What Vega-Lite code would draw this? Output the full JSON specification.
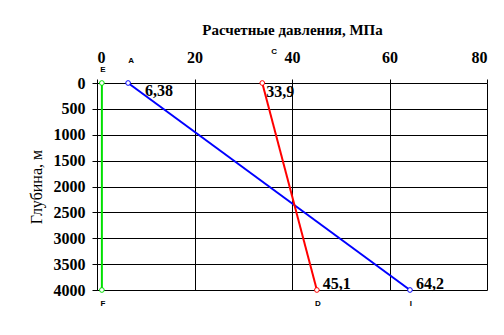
{
  "$schema": "https://vega.github.io/schema/vega-lite/v6.json",
  "autosize": {"type": "none"},
  "width": 390,
  "height": 207,
  "padding": {"left": 97, "top": 83, "right": 17, "bottom": 45},
  "background": "white",
  "config": {"view": {"stroke": null}},
  "datasets": {
    "lines": [
      {"series": "green", "p": 1, "depth": 0},
      {"series": "green", "p": 1, "depth": 4000},
      {"series": "blue", "p": 6.38, "depth": 0},
      {"series": "blue", "p": 64.2, "depth": 4000},
      {"series": "red", "p": 33.9, "depth": 0},
      {"series": "red", "p": 45.1, "depth": 4000}
    ],
    "labels": [
      {"pos": "top1", "p": 6.38, "depth": 0, "text": "6,38"},
      {"pos": "top2", "p": 33.9, "depth": 0, "text": "33,9"},
      {"pos": "bottom", "p": 45.1, "depth": 4000, "text": "45,1"},
      {"pos": "bottom", "p": 64.2, "depth": 4000, "text": "64,2"}
    ],
    "letters": [
      {"pos": "top", "p": 1, "depth": 0, "text": "E"},
      {"pos": "bottom", "p": 1, "depth": 4000, "text": "F"},
      {"pos": "bottom", "p": 45.1, "depth": 4000, "text": "D"},
      {"pos": "bottom", "p": 64.2, "depth": 4000, "text": "I"},
      {"pos": "a", "p": 6.38, "depth": 0, "text": "A"},
      {"pos": "c", "p": 33.9, "depth": 0, "text": "C"}
    ]
  },
  "encoding": {
    "x": {
      "field": "p", "type": "quantitative",
      "scale": {"domain": [0, 80], "nice": false, "zero": false},
      "axis": {
        "orient": "top", "values": [0, 20, 40, 60, 80], "format": "d",
        "title": "Расчетные давления, МПа",
        "titleFont": "Liberation Serif", "titleFontSize": 15, "titleFontWeight": "bold", "titleColor": "black",
        "titlePadding": 12,
        "labelFont": "Liberation Serif", "labelFontSize": 16, "labelFontWeight": "bold", "labelColor": "black",
        "labelPadding": 14, "tickSize": 4, "tickColor": "black",
        "domain": false,
        "grid": true, "gridColor": "black", "gridOpacity": 1, "gridWidth": 1
      }
    },
    "y": {
      "field": "depth", "type": "quantitative",
      "scale": {"domain": [0, 4000], "reverse": true, "nice": false, "zero": false},
      "axis": {
        "values": [0, 500, 1000, 1500, 2000, 2500, 3000, 3500, 4000], "format": "d",
        "title": "Глубина, м",
        "titleFont": "Liberation Serif", "titleFontSize": 16, "titleFontWeight": "normal", "titleColor": "black",
        "titlePadding": 9,
        "labelFont": "Liberation Serif", "labelFontSize": 16, "labelFontWeight": "bold", "labelColor": "black",
        "labelPadding": 7, "tickSize": 5, "tickColor": "black",
        "domain": true, "domainColor": "black",
        "grid": true, "gridColor": "black", "gridOpacity": 1, "gridWidth": 1
      }
    }
  },
  "layer": [
    {
      "data": {"name": "lines"},
      "mark": {"type": "line", "strokeWidth": 2},
      "encoding": {
        "detail": {"field": "series"},
        "color": {
          "field": "series", "type": "nominal", "legend": null,
          "scale": {"domain": ["green", "blue", "red"], "range": ["#00e000", "#0000ff", "#ff0000"]}
        },
        "strokeWidth": {
          "field": "series", "type": "nominal", "legend": null,
          "scale": {"domain": ["green", "blue", "red"], "range": [3, 1.5, 2]}
        }
      }
    },
    {
      "data": {"name": "lines"},
      "mark": {"type": "point", "shape": "circle", "filled": true, "fill": "white", "size": 22, "strokeWidth": 1, "opacity": 1},
      "encoding": {
        "stroke": {
          "field": "series", "type": "nominal", "legend": null,
          "scale": {"domain": ["green", "blue", "red"], "range": ["#00e000", "#0000ff", "#ff0000"]}
        }
      }
    },
    {
      "data": {"name": "labels"},
      "transform": [{"filter": "datum.pos == 'top1'"}],
      "mark": {"type": "text", "align": "left", "baseline": "middle", "dx": 17, "dy": 8, "font": "Liberation Serif", "fontSize": 16, "fontWeight": "bold", "color": "black"},
      "encoding": {"text": {"field": "text"}}
    },
    {
      "data": {"name": "labels"},
      "transform": [{"filter": "datum.pos == 'top2'"}],
      "mark": {"type": "text", "align": "left", "baseline": "middle", "dx": 4, "dy": 9, "font": "Liberation Serif", "fontSize": 16, "fontWeight": "bold", "color": "black"},
      "encoding": {"text": {"field": "text"}}
    },
    {
      "data": {"name": "labels"},
      "transform": [{"filter": "datum.pos == 'bottom'"}],
      "mark": {"type": "text", "align": "left", "baseline": "middle", "dx": 6, "dy": -6, "font": "Liberation Serif", "fontSize": 16, "fontWeight": "bold", "color": "black"},
      "encoding": {"text": {"field": "text"}}
    },
    {
      "data": {"name": "letters"},
      "transform": [{"filter": "datum.pos == 'top'"}],
      "mark": {"type": "text", "align": "center", "baseline": "middle", "dx": 1, "dy": -13, "font": "Liberation Sans", "fontSize": 8, "fontWeight": "bold", "color": "black"},
      "encoding": {"text": {"field": "text"}}
    },
    {
      "data": {"name": "letters"},
      "transform": [{"filter": "datum.pos == 'bottom'"}],
      "mark": {"type": "text", "align": "center", "baseline": "middle", "dx": 1, "dy": 14, "font": "Liberation Sans", "fontSize": 8, "fontWeight": "bold", "color": "black"},
      "encoding": {"text": {"field": "text"}}
    },
    {
      "data": {"name": "letters"},
      "transform": [{"filter": "datum.pos == 'a'"}],
      "mark": {"type": "text", "align": "center", "baseline": "middle", "dx": 3, "dy": -22, "font": "Liberation Sans", "fontSize": 8, "fontWeight": "bold", "color": "black"},
      "encoding": {"text": {"field": "text"}}
    },
    {
      "data": {"name": "letters"},
      "transform": [{"filter": "datum.pos == 'c'"}],
      "mark": {"type": "text", "align": "center", "baseline": "middle", "dx": 12, "dy": -31, "font": "Liberation Sans", "fontSize": 8, "fontWeight": "bold", "color": "black"},
      "encoding": {"text": {"field": "text"}}
    }
  ]
}
